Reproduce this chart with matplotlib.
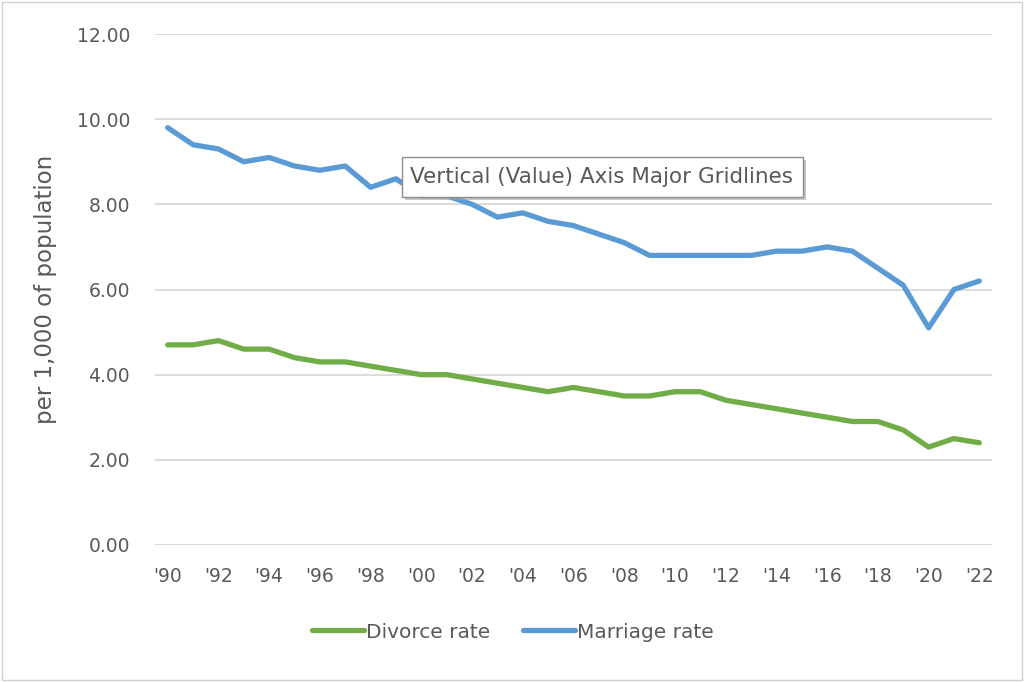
import matplotlib.pyplot as plt
from matplotlib.patches import Rectangle

years = list(range(1990, 2023))
marriage = [9.8, 9.4, 9.3, 9.0, 9.1, 8.9, 8.8, 8.9, 8.4, 8.6, 8.2, 8.2, 8.0, 7.7, 7.8, 7.6, 7.5,
            7.3, 7.1, 6.8, 6.8, 6.8, 6.8, 6.8, 6.9, 6.9, 7.0, 6.9, 6.5, 6.1, 5.1, 6.0, 6.2]
divorce = [4.7, 4.7, 4.8, 4.6, 4.6, 4.4, 4.3, 4.3, 4.2, 4.1, 4.0, 4.0, 3.9, 3.8, 3.7, 3.6, 3.7,
           3.6, 3.5, 3.5, 3.6, 3.6, 3.4, 3.3, 3.2, 3.1, 3.0, 2.9, 2.9, 2.7, 2.3, 2.5, 2.4]
tick_years = list(range(1990, 2023, 2))
tick_labels = ["'%02d" % (y % 100) for y in tick_years]

grey = '#595959'
fig = plt.figure(figsize=(10.24, 6.82), dpi=100)
ax = fig.add_axes([155/1024, 1 - 545/682, (992-155)/1024, (545-34)/682])

ax.plot(years, divorce, color='#70AD47', lw=3.8, label='Divorce rate', solid_capstyle='round')
ax.plot(years, marriage, color='#5B9BD5', lw=3.8, label='Marriage rate', solid_capstyle='round')

ax.set_xlim(1989.5, 2022.5)
ax.set_ylim(0, 12)
ax.set_yticks([0, 2, 4, 6, 8, 10, 12])
ax.set_yticklabels(['%.2f' % v for v in [0, 2, 4, 6, 8, 10, 12]])
ax.set_xticks(tick_years)
ax.set_xticklabels(tick_labels)
ax.tick_params(length=0, colors=grey, labelsize=13.5)
ax.tick_params(axis='x', pad=16)
ax.tick_params(axis='y', pad=18)
ax.grid(axis='y', color='#d9d9d9', lw=1.3)
ax.set_axisbelow(True)
for s in ax.spines.values():
    s.set_visible(False)
ax.axhline(0, color='#d9d9d9', lw=1.3)
ax.set_ylabel('per 1,000 of population', color=grey, fontsize=16.5, labelpad=14)

fig.legend(*ax.get_legend_handles_labels(), loc='center', bbox_to_anchor=(513/1024, 1 - 632/682),
           ncol=2, frameon=False, fontsize=14.5, labelcolor=grey, handlelength=2.6,
           columnspacing=1.6, handletextpad=0.1)

# tooltip with shadow
fig.patches.append(Rectangle((405/1024, 1 - 200/682), 401/1024, 40/682, transform=fig.transFigure,
                             fc='#a0a0a0', ec='none', alpha=0.6, zorder=5))
fig.patches.append(Rectangle((402/1024, 1 - 197/682), 401/1024, 40/682, transform=fig.transFigure,
                             fc='white', ec='#8c8c8c', lw=1, zorder=6))
fig.text(410/1024, 1 - 177/682, 'Vertical (Value) Axis Major Gridlines', fontsize=15.5, color=grey,
         va='center', ha='left', zorder=7)

fig.patches.append(Rectangle((2/1024, 2/682), 1 - 4/1024, 1 - 4/682, transform=fig.transFigure,
                             fill=False, ec='#d0d0d0', lw=1))

fig.savefig('out.png', dpi=100)
